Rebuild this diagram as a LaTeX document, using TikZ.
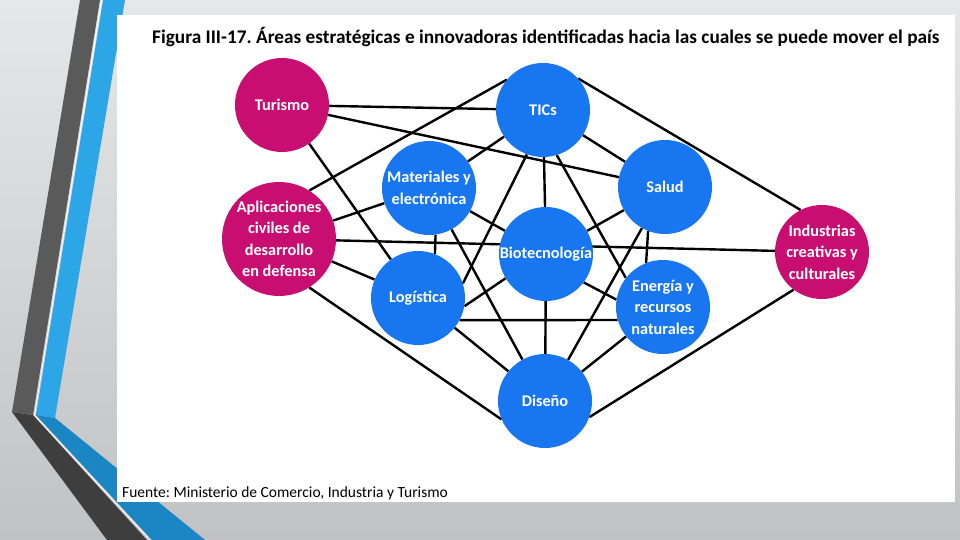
\documentclass[tikz,border=0pt]{standalone}
\usepackage{fontspec}
\setmainfont{Carlito}

\definecolor{areablue}{RGB}{24,118,240}
\definecolor{areapink}{RGB}{200,14,112}
\definecolor{bandgray}{RGB}{90,90,90}
\definecolor{banddark}{RGB}{62,62,62}
\definecolor{bandsky}{RGB}{44,166,230}
\definecolor{bandblue}{RGB}{26,134,196}
\definecolor{slidetop}{RGB}{230,231,232}
\definecolor{slidebot}{RGB}{192,194,195}

\pgfdeclarelayer{slide}
\pgfdeclarelayer{links}
\pgfsetlayers{slide,links,main}

\tikzset{
  area/.style={circle, minimum size=94pt, inner sep=0pt, text=white, align=center,
    font=\bfseries\fontsize{16.3}{21.5}\selectfont},
  bluearea/.style={area, fill=areablue},
  pinkarea/.style={area, fill=areapink},
  link/.style={line width=2.4pt, black}
}

\begin{document}
\frenchspacing
\begin{tikzpicture}[x=1pt, y=-1pt]
    \useasboundingbox (0,0) rectangle (960,540);

    % Slide background with the side bands
    \begin{pgfonlayer}{slide}
        \shade[top color=slidetop, bottom color=slidebot] (0,0) rectangle (960,540);
        \fill[bandgray] (80,0) -- (100,0) -- (33,415) -- (12,412) -- cycle;
        \fill[banddark] (12,412) -- (33,415) -- (147,540) -- (107,540) -- cycle;
        \fill[bandsky] (103,0) -- (125,0) -- (55,418) -- (36,415) -- cycle;
        \fill[bandblue] (36,415) -- (55,418) -- (205,540) -- (152,540) -- cycle;
        \draw[white, line width=0.8pt] (101.5,0) -- (34.5,415.5) -- (150,540);
        \fill[white] (117,15) rectangle (955,502);
    \end{pgfonlayer}

    % Title and source
    \node[anchor=base west, inner sep=0pt, font=\bfseries\fontsize{19.3}{24}\selectfont] (title) at (152,44)
        {Figura III-17. Áreas estratégicas e innovadoras identificadas hacia las cuales se puede mover el país};
    \node[anchor=base west, inner sep=0pt, font=\fontsize{15.5}{19}\selectfont] (source) at (122,497)
        {Fuente: Ministerio de Comercio, Industria y Turismo};

    % The areas
    \node[pinkarea] (tur) at (282,105) {Turismo};
    \node[bluearea] (tic) at (543,110) {TICs};
    \node[bluearea] (mat) at (429,188) {Materiales y\\electrónica};
    \node[bluearea] (sal) at (665,187) {Salud};
    \node[pinkarea, minimum size=114pt] (apl) at (279,239) {Aplicaciones\\civiles de\\desarrollo\\en defensa};
    \node[bluearea] (bio) at (546,254) {Biotecnología};
    \node[pinkarea] (ind) at (822,252) {Industrias\\creativas y\\culturales};
    \node[bluearea] (log) at (418,298) {Logística};
    \node[bluearea] (ene) at (663,307) {Energía y\\recursos\\naturales};
    \node[bluearea] (dis) at (545,401) {Diseño};

    % Links behind the areas
    \begin{pgfonlayer}{links}
        \foreach \a/\b in {tur/tic, tur/sal, tur/log, apl/mat, apl/ind, apl/log,
                tic/mat, tic/bio, tic/sal, mat/bio, mat/dis, sal/bio, sal/dis,
                bio/dis, log/dis, ene/dis}
            \draw[link] (\a) -- (\b);
        % links that do not meet the centres
        \draw[link] (apl.58) -- (tic.140);
        \draw[link] (apl.-58) -- (dis.203);
        \draw[link] (tic.-110) -- (log.18);
        \draw[link] (tic.-73) -- (ene.142);
        \draw[link] (tic.42) -- (ind.117);
        \draw[link] (mat.-82) -- (log.69);
        \draw[link] (sal.-111) -- (ene.111);
        \draw[link] (log.-28) -- (ene.196);
        \draw[link] (log.-10) -- (bio.211);
        \draw[link] (bio.-37) -- (ene.171);
        \draw[link] (ind.-127) -- (dis.-20);
    \end{pgfonlayer}
\end{tikzpicture}
\end{document}
